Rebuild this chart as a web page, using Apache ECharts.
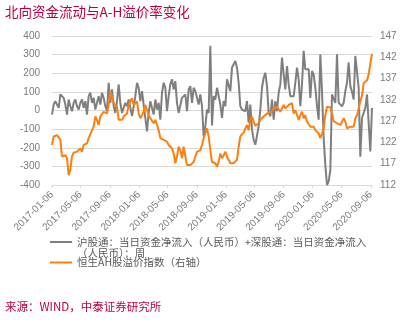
<!DOCTYPE html>
<html><head><meta charset="utf-8">
<script src="https://cdn.jsdelivr.net/npm/echarts@6/dist/echarts.min.js"></script>
<style>html,body{margin:0;padding:0;background:#fff}#c{width:405px;height:328px}</style>
</head><body><div id="c"></div>
<script>
const titleText = '北向资金流动与A-H溢价率变化';
const sourceText = '来源：WIND，中泰证券研究所';
const seriesNames = ['沪股通：当日资金净流入（人民币）+深股通：当日资金净流入（人民币）：周', '恒生AH股溢价指数（右轴）'];
const startDate = '2017-01-06';
const tickLabels = ['2017-01-06','2017-05-06','2017-09-06','2018-01-06','2018-05-06','2018-09-06','2019-01-06','2019-05-06','2019-09-06','2020-01-06','2020-05-06','2020-09-06'];
const leftTicks = [-400, 400, 100];
const rightTicks = [112, 147, 5];

// weekly net northbound inflow (亿元)
const northFlow = [
 -22, 32, 50, 41, 14, 86, 95, 68, 32, -22, 59, 23, -4, 41, 59, 23, 5, 41, 59, 14,
 50, -22, 77, 95, 41, 68, 5, 41, 77, 32, 95, 68, 23, -4, 149, 41, 113, 23, -13, 50,
 140, 41, -13, -22, 41, 23, 59, 50, -30,
 23, 77, 149, 122, 50, 104, 32, -40, -112, -13, 50, 41, -22, 59, 5, 41, -49, 95, 149, 122,
 -4, 77, 140, 167, 113, 158, 40, -13, -4, 68, 77, 86, -4, 113, 131, 41, 122, 104, 95, 32,
 86, 23, -139, -85, 5, -13, 348, -80,
 77, 59, 122, 113, 32, -40, 50, 23, 167, 176, 104, 230, 248, 266, 230, 149, 23, 5, 5, -4,
 50, -65, 32, -103, -157, -184, -175, -85, 5, 122, 176, 203, 131, -13, -31, 59, -49, 50, -4, 95,
 140, 284, 194, 113, 239, 140, 77, 86,
 77, 149, 230, 167, 23, 140, 320, 221, 212, 221, 68, 212, 194, 122, 23, -49, 302, 104, -150, -292,
 -400, -380, -320, 86, 86, 41, 302, 41, 32, 23, 41, 104, 150, 258, 131, 100, 59, 293, 293, 122,
 -248, -40, -40, 14, 86, 77, -220, 14
];
// Hang Seng AH premium index, weekly
const ahPremium = [
 121.4, 123.4, 123.5, 123.7, 124.1, 122.6, 118.7, 118.3, 119, 118.3, 114.3, 115.5, 118.7, 119.6, 119.4, 119.8, 120.2, 120.6, 119.8, 121.4,
 121, 121.8, 123, 123.4, 124.9, 125.7, 128.1, 127.3, 126.1, 128.1, 127.7, 129.2, 129.6, 128.8, 130.8, 133.9, 132.7, 131.2, 131.6, 130.4,
 127.3, 126.9, 127.3, 128.1, 127.7, 128.8, 130.8, 131.6, 132.4,
 130.8, 130.4, 131.6, 128.8, 127.7, 128.4, 129.2, 130.8, 130.4, 128.4, 127.7, 128.1, 126.5, 127.3, 126.9, 124.9, 123, 123.4, 122.6, 123,
 122.2, 121.4, 121, 120.6, 119.4, 117.1, 118.7, 121, 120.2, 118.3, 121, 118.7, 116.7, 116.3, 116.7, 117.1, 117.4, 118.7, 119.8, 119.8,
 120.2, 121.4, 123, 124.1, 125.3, 123.4, 120.2, 117.4,
 117.5, 117.1, 116.3, 117.5, 119.4, 118.3, 119, 119.8, 118.7, 118.3, 117.1, 116.7, 117.1, 117.5, 117.9, 121, 123.4, 123.7, 124.3, 125.3,
 126.1, 124.9, 127.3, 128.1, 126.9, 125.9, 125.7, 126.5, 127.3, 127.7, 128.1, 128.4, 128.8, 129.2, 129, 129.2, 130, 129.6, 130.4, 130.4,
 129.2, 129.6, 130.8, 130, 130.4, 130.8, 131, 131.2,
 128.8, 129.6, 129.2, 127.3, 128.4, 129.2, 127.7, 128.4, 126.9, 126.5, 125.7, 126.1, 125.7, 124.9, 125.3, 124.1, 123, 124.1, 125.3, 128.4,
 130.4, 130.8, 130.2, 128.8, 127, 127.3, 126.5, 126.5, 126.1, 126.9, 127.7, 126.9, 125.3, 124.9, 125.7, 126.1, 125.7, 127.7, 128.4, 130,
 131.7, 133, 135.9, 136.2, 136.6, 138, 140.5, 142.8
];

const DAY = 86400000;
const t0 = Date.parse(startDate);
const dates = northFlow.map((_, i) => t0 + i * 7 * DAY);
const tEnd = dates[dates.length - 1];
const tickTs = tickLabels.map(s => Date.parse(s));
const fmt = v => new Date(v).toISOString().slice(0, 10);
// the long legend entry wraps onto a second line, as in the source
const breakAt = seriesNames[0].lastIndexOf('（人民币）');
const legendLine1 = seriesNames[0].slice(0, breakAt);
const legendLine2 = seriesNames[0].slice(breakAt);
const legendFmt = name => name === seriesNames[0] ? legendLine1 : name;

const numFont = 'Liberation Sans';
const cjkFont = 'Noto Sans CJK SC';
const axisGray = '#7a7a7a';
const legendGray = '#595959';
const red = '#c0003c';
const lineIcon = 'path://M0,0H22V2H0Z';

const chart = echarts.init(document.getElementById('c'), null, {renderer: 'canvas'});
chart.setOption({
  animation: false,
  backgroundColor: '#fff',
  title: [
    {text: titleText, left: 5, top: 5, padding: 0,
     textStyle: {fontSize: 13.5, fontWeight: 'normal', color: red, fontFamily: cjkFont}},
    {text: sourceText, left: 5, top: 301, padding: 0,
     textStyle: {fontSize: 11.5, fontWeight: 'normal', color: red, fontFamily: cjkFont}},
    {text: legendLine2, left: 77, top: 247.5, padding: 0,
     textStyle: {fontSize: 10.5, fontWeight: 'normal', color: legendGray, fontFamily: cjkFont, lineHeight: 12}}
  ],
  grid: {left: 52, right: 33, top: 36, bottom: 143},
  legend: [
    {data: [seriesNames[0]], left: 50, top: 236, padding: 0, orient: 'vertical',
     icon: lineIcon, symbolKeepAspect: false, itemWidth: 22, itemHeight: 2, itemGap: 0,
     formatter: legendFmt,
     textStyle: {fontSize: 10.5, color: legendGray, fontFamily: cjkFont, lineHeight: 12}},
    {data: [seriesNames[1]], left: 50, top: 256.5, padding: 0, orient: 'vertical',
     icon: lineIcon, symbolKeepAspect: false, itemWidth: 22, itemHeight: 2, itemGap: 0,
     formatter: legendFmt,
     textStyle: {fontSize: 10.5, color: legendGray, fontFamily: cjkFont, lineHeight: 12}}
  ],
  xAxis: [
    {type: 'value', min: t0, max: tEnd, position: 'bottom', scale: true,
     axisLine: {show: false}, axisTick: {show: false}, splitLine: {show: false},
     axisLabel: {customValues: tickTs, formatter: fmt, rotate: 45, margin: 8,
                 fontSize: 10, color: axisGray, fontFamily: numFont, hideOverlap: false}},
    {type: 'value', min: t0, max: tEnd, position: 'bottom', scale: true,
     axisLine: {show: true, onZero: true, lineStyle: {color: '#d9d9d9', width: 1}},
     axisTick: {show: true, customValues: tickTs, length: 3, lineStyle: {color: '#d9d9d9'}},
     axisLabel: {show: false}, splitLine: {show: false}}
  ],
  yAxis: [
    {type: 'value', min: leftTicks[0], max: leftTicks[1], interval: leftTicks[2], position: 'left',
     axisLine: {show: false}, axisTick: {show: false},
     splitLine: {lineStyle: {color: '#d9d9d9', width: 1}},
     axisLabel: {fontSize: 10, color: axisGray, fontFamily: numFont, margin: 12}},
    {type: 'value', min: rightTicks[0], max: rightTicks[1], interval: rightTicks[2], position: 'right',
     axisLine: {show: false}, axisTick: {show: false}, splitLine: {show: false},
     axisLabel: {fontSize: 10, color: axisGray, fontFamily: numFont, margin: 8}}
  ],
  series: [
    {name: seriesNames[0], type: 'line', xAxisIndex: 0, yAxisIndex: 0, symbol: 'none',
     data: dates.map((t, i) => [t, northFlow[i]]),
     lineStyle: {color: '#7f7f7f', width: 2}, itemStyle: {color: '#7f7f7f'}, z: 2},
    {name: seriesNames[1], type: 'line', xAxisIndex: 0, yAxisIndex: 1, symbol: 'none',
     data: dates.map((t, i) => [t, ahPremium[i]]),
     lineStyle: {color: '#ff7f0e', width: 2}, itemStyle: {color: '#ff7f0e'}, z: 3}
  ]
});
</script>
</body></html>
